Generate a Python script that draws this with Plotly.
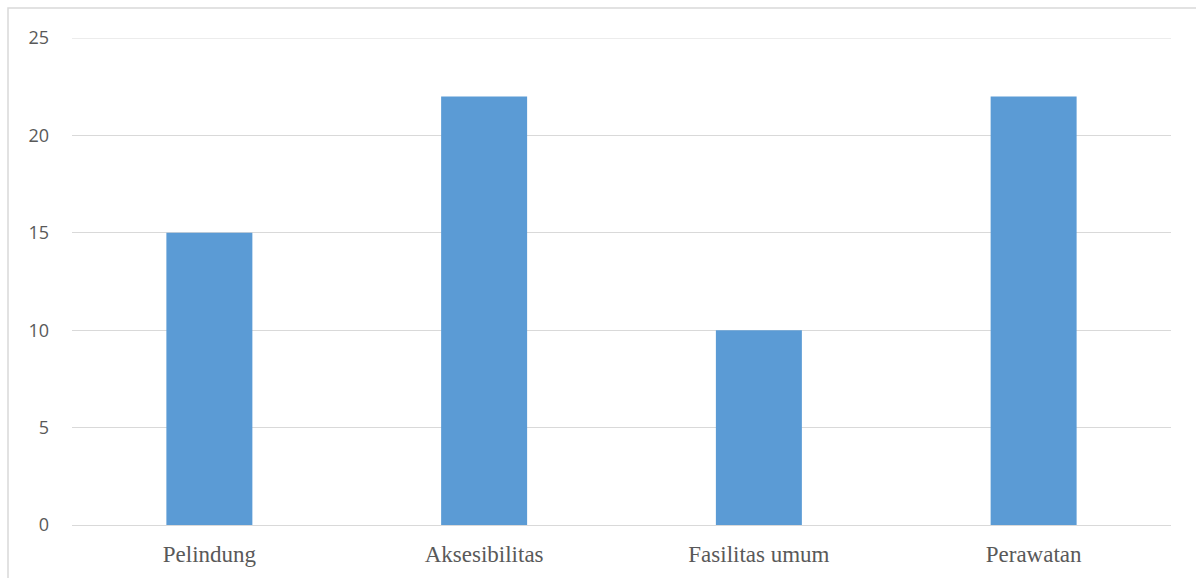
import plotly.graph_objects as go

categories = ["Pelindung", "Aksesibilitas", "Fasilitas umum", "Perawatan"]
values = [15, 22, 10, 22]
y_ticks = [0, 5, 10, 15, 20, 25]

fig = go.Figure(
    go.Bar(x=categories, y=values, marker=dict(color="#5b9bd5", line=dict(width=0)))
)

fig.update_layout(
    width=1196,
    height=578,
    margin=dict(l=72, r=25, t=38, b=53, autoexpand=False),
    plot_bgcolor="white",
    paper_bgcolor="white",
    bargap=0.687,
    showlegend=False,
    shapes=[
        # outer chart frame
        dict(
            type="rect", xref="paper", yref="paper",
            x0=-64 / 1099, x1=1.1, y0=-0.2, y1=1 + 30 / 487,
            line=dict(color="#d9d9d9", width=1.5), fillcolor="rgba(0,0,0,0)",
            layer="below",
        ),
        # top gridline at the axis maximum
        dict(
            type="line", xref="paper", yref="y",
            x0=0, x1=1, y0=y_ticks[-1], y1=y_ticks[-1],
            line=dict(color="#d9d9d9", width=1.2), layer="above",
        ),
    ],
)

fig.update_xaxes(
    showgrid=False,
    showline=True,
    linecolor="#d9d9d9",
    linewidth=1,
    ticks="",
    automargin=False,
    tickfont=dict(family="Liberation Serif", size=23, color="#595959"),
    ticklabelstandoff=8,
)
fig.update_yaxes(
    range=[0, 25],
    tickvals=y_ticks,
    showgrid=True,
    gridcolor="#d9d9d9",
    gridwidth=1,
    zeroline=False,
    showline=False,
    ticks="",
    automargin=False,
    tickfont=dict(family="Open Sans", size=18, color="#595959"),
    ticklabelstandoff=22,
)

fig.write_html("out.html")
